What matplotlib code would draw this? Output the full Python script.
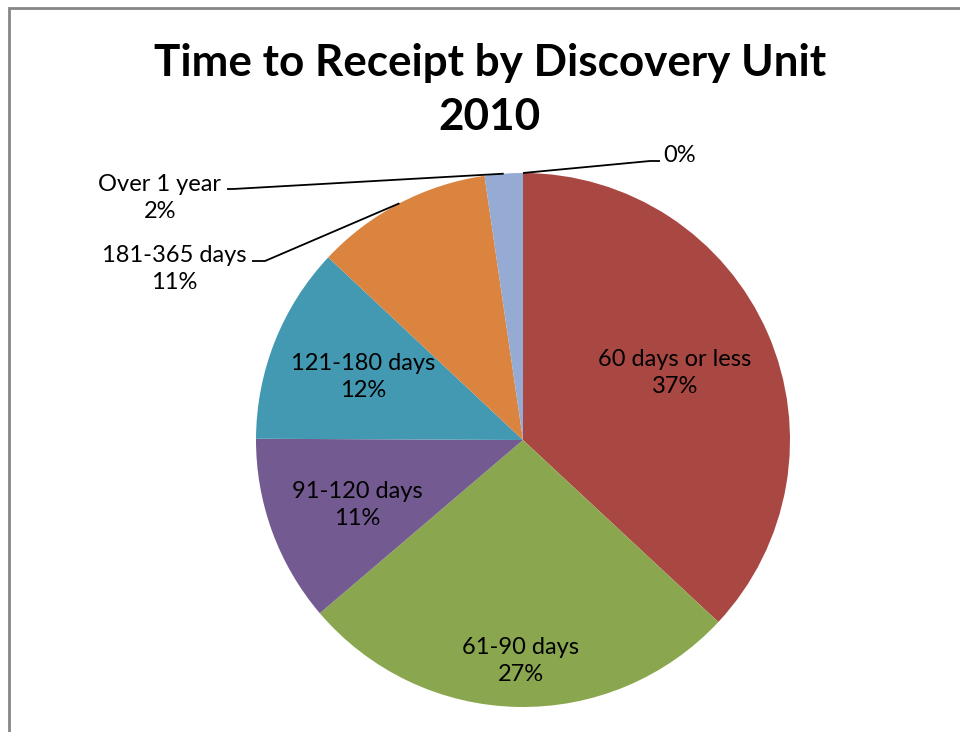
import numpy as np
import matplotlib
matplotlib.use("Agg")
import matplotlib.pyplot as plt
from matplotlib.patches import Rectangle

plt.rcParams['font.family'] = ['Lato', 'DejaVu Sans']

# data (share of units, percent)
categories = ["60 days or less", "61-90 days", "91-120 days", "121-180 days",
              "181-365 days", "Over 1 year", ""]
values = [36.9, 26.8, 11.3, 11.9, 10.7, 2.3, 0.0]
colors = ["#A94743", "#8AA74F", "#735A91", "#4399B1", "#DA843F", "#95ABD4", "#95ABD4"]
title = "Time to Receipt by Discovery Unit\n2010"

W, H = 960, 732
cx, cy, r = 523, 440, 267  # pie centre / radius in pixels

fig = plt.figure(figsize=(W / 100, H / 100), dpi=100)
fig.patch.set_facecolor("white")

# chart area border (cropped at right/bottom)
fig.patches.append(Rectangle((8.5 / W, -0.1), 1.2, (H - 7.5) / H + 0.1,
                             transform=fig.transFigure, fill=False,
                             edgecolor="#868686", linewidth=2))

ax = fig.add_axes([(cx - r) / W, (H - cy - r) / H, 2 * r / W, 2 * r / H])
wedges, _ = ax.pie(values, colors=colors, startangle=90, counterclock=False,
                   radius=1.0, wedgeprops=dict(linewidth=0))
ax.set_xlim(-1, 1)
ax.set_ylim(-1, 1)
ax.set_aspect("equal")
ax.axis("off")


def px(x, y):
    # pixel position -> data units of the pie axes
    return (x - cx) / r, (cy - y) / r


total = sum(values)
pct = [f"{round(v / total * 100):.0f}%" for v in values]
fs = 17
ls = 1.32

# labels inside the pie
inside = {0: (675, 373), 1: (521, 661), 2: (357, 505), 3: (363, 377)}
for i, (x, y) in inside.items():
    tx, ty = px(x, y)
    ax.text(tx, ty, f"{categories[i]}\n{pct[i]}", ha="center", va="center",
            fontsize=fs, linespacing=ls, color="black")

# outside labels with leader lines
outside = {
    4: dict(text=(174, 269), elbow=(265, 261), start=(252, 261)),
    5: dict(text=(160, 198), elbow=(233, 189), start=(227, 189)),
    6: dict(text=(680, 156), elbow=(650, 161), start=(660, 161)),
}
for i, o in outside.items():
    w = wedges[i]
    mid = np.deg2rad((w.theta1 + w.theta2) / 2)
    ex, ey = np.cos(mid), np.sin(mid)
    sx, sy = px(*o["start"])
    bx, by = px(*o["elbow"])
    ax.plot([sx, bx, ex], [sy, by, ey], color="black", lw=1.3,
            clip_on=False, solid_capstyle="butt")
    tx, ty = px(*o["text"])
    label = pct[i] if not categories[i] else f"{categories[i]}\n{pct[i]}"
    ax.text(tx, ty, label, ha="center", va="center", fontsize=fs,
            linespacing=ls, color="black")

fig.text(490 / W, 1 - 90 / H, title, ha="center", va="center",
         fontsize=31.7, fontweight="bold", linespacing=1.42)

fig.savefig("out.png", dpi=100)
